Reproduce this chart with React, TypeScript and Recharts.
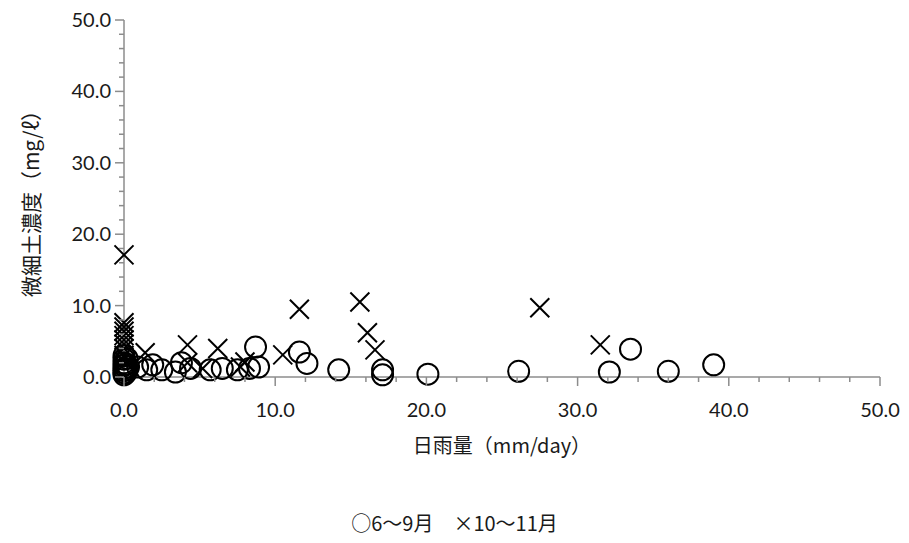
import React from 'react';
import { ScatterChart, Scatter, XAxis, YAxis } from 'recharts';

// 6〜9月 (○)
const summerRain = [
  0, 0, 0, 0, 0, 0, 0, 0, 0.1, 0.1, 0.2, 0.2, 0.3, 0.9, 1.5, 1.9, 2.5, 3.4, 3.8, 4.4,
  5.7, 6.5, 7.5, 8.3, 8.7, 8.9, 11.6, 12.1, 14.2, 17.1, 17.1, 20.1, 26.1, 32.1, 33.5,
  36.0, 39.0,
];
const summerConc = [
  0.3, 0.6, 0.9, 1.2, 1.6, 2.0, 2.5, 3.0, 0.5, 1.8, 1.0, 2.6, 1.4, 1.4, 1.0, 1.7, 1.0, 0.7, 2.0, 1.2,
  1.0, 1.2, 1.0, 1.2, 4.2, 1.4, 3.5, 1.9, 1.0, 1.0, 0.3, 0.4, 0.8, 0.7, 3.9,
  0.8, 1.7,
];

// 10〜11月 (×)
const autumnRain = [
  0, 0, 0, 0, 0, 0, 0, 0, 0, 0.1, 1.4, 4.2, 4.2, 5.2, 6.2, 7.7, 8.0, 10.5, 11.6, 15.6,
  16.1, 16.6, 27.5, 31.5,
];
const autumnConc = [
  17.1, 7.6, 7.0, 6.4, 5.8, 5.2, 4.6, 4.0, 3.0, 2.0, 3.4, 4.5, 2.0, 1.2, 4.0, 1.4, 2.1, 3.1, 9.5, 10.5,
  6.2, 3.8, 9.7, 4.5,
];

const xTicks = [0, 2, 4, 6, 8, 10, 12, 14, 16, 18, 20, 22, 24, 26, 28, 30, 32, 34, 36, 38, 40, 42, 44, 46, 48, 50];
const yTicks = [0, 2, 4, 6, 8, 10, 12, 14, 16, 18, 20, 22, 24, 26, 28, 30, 32, 34, 36, 38, 40, 42, 44, 46, 48, 50];

const summer = summerRain.map((x, i) => ({ x, y: summerConc[i] }));
const autumn = autumnRain.map((x, i) => ({ x, y: autumnConc[i] }));

const NUM_FONT = "Lato, 'Noto Sans CJK JP', sans-serif";
const JP_FONT = "'Noto Sans CJK JP', sans-serif";
const AXIS = '#8c8c8c';
const TEXT = '#1a1a1a';

const XTick = ({ x, y, payload }: any) => {
  const major = payload.value % 10 === 0;
  return (
    <g>
      <line x1={x} x2={x} y1={y} y2={y + (major ? 9 : 5)} stroke={AXIS} strokeWidth={1.5} />
      {major && (
        <text x={x} y={y + 40} textAnchor="middle" fontSize={20} fill={TEXT} fontFamily={NUM_FONT}>
          {payload.value.toFixed(1)}
        </text>
      )}
    </g>
  );
};

const YTick = ({ x, y, payload }: any) => {
  const major = payload.value % 10 === 0;
  return (
    <g>
      <line x1={x - (major ? 9 : 5)} x2={x} y1={y} y2={y} stroke={AXIS} strokeWidth={1.5} />
      {major && (
        <text x={x - 13} y={y + 7} textAnchor="end" fontSize={20} fill={TEXT} fontFamily={NUM_FONT}>
          {payload.value.toFixed(1)}
        </text>
      )}
    </g>
  );
};

const Ring = ({ cx, cy }: any) => (
  <circle cx={cx} cy={cy} r={10.5} fill="none" stroke="#000" strokeWidth={2} />
);

const Cross = ({ cx, cy }: any) => (
  <path d={`M${cx - 9.5},${cy - 9.5}L${cx + 9.5},${cy + 9.5}M${cx - 9.5},${cy + 9.5}L${cx + 9.5},${cy - 9.5}`} stroke="#000" strokeWidth={2} />
);

export default function App() {
  return (
    <div style={{ position: 'relative', width: 893, height: 527 }}>
      <ScatterChart width={893} height={527} margin={{ top: 12, right: 21, left: 0, bottom: 0 }}>
        <XAxis
          type="number"
          dataKey="x"
          domain={[0, 50]}
          ticks={xTicks}
          interval={0}
          tickSize={0}
          tickMargin={0}
          tick={<XTick />}
          stroke={AXIS}
          strokeWidth={1.5}
          height={158}
          label={{
            content: ({ viewBox }: any) => (
              <text x={viewBox.x + viewBox.width / 2} y={viewBox.y + 76} textAnchor="middle" fontSize={20} fill={TEXT} fontFamily={JP_FONT}>
                日雨量（mm/day）
              </text>
            ),
          }}
        />
        <YAxis
          type="number"
          dataKey="y"
          domain={[0, 50]}
          ticks={yTicks}
          interval={0}
          tickSize={0}
          tickMargin={0}
          tick={<YTick />}
          stroke={AXIS}
          strokeWidth={1.5}
          width={116}
          label={{
            content: ({ viewBox }: any) => {
              const cx = viewBox.x + 22;
              const cy = viewBox.y + viewBox.height / 2;
              return (
                <text x={cx} y={cy} transform={`rotate(-90 ${cx} ${cy})`} textAnchor="middle" dominantBaseline="central" fontSize={21} fill={TEXT} fontFamily={JP_FONT}>
                  微細土濃度（mg/ℓ）
                </text>
              );
            },
          }}
        />
        <Scatter name="6〜9月" data={summer} shape={<Ring />} isAnimationActive={false} />
        <Scatter name="10〜11月" data={autumn} shape={<Cross />} isAnimationActive={false} />
      </ScatterChart>
      <div style={{ position: 'absolute', left: 0, width: 893, top: 500, textAlign: 'center', fontSize: 20, color: TEXT, fontFamily: JP_FONT }}>
        ○6〜9月　×10〜11月
      </div>
    </div>
  );
}
